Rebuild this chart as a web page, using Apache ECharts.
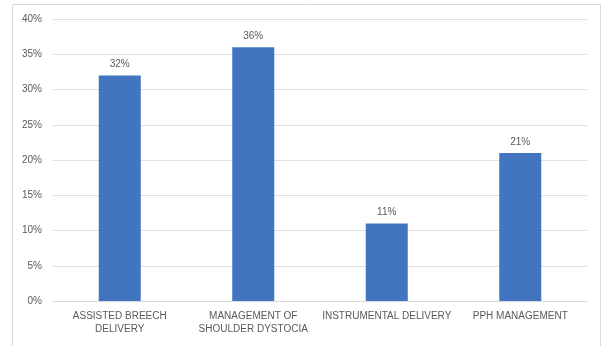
<!DOCTYPE html>
<html>
<head>
<meta charset="utf-8">
<script src="https://cdn.jsdelivr.net/npm/echarts@6/dist/echarts.min.js"></script>
<style>
  html, body { margin: 0; padding: 0; background: #fff; }
  #chart { width: 606px; height: 346px; }
</style>
</head>
<body>
<div id="chart"></div>
<script>
// Skills training categories and share of respondents (%)
const categories = [
  'ASSISTED BREECH\nDELIVERY',
  'MANAGEMENT OF\nSHOULDER DYSTOCIA',
  'INSTRUMENTAL DELIVERY',
  'PPH MANAGEMENT'
];
const values = [32, 36, 11, 21];
const yMin = 0, yMax = 40, yStep = 5;

const textColor = '#595959';
const fontFamily = '"Liberation Sans Narrow", "Liberation Sans", Arial, sans-serif';

const chart = echarts.init(document.getElementById('chart'), null, { renderer: 'canvas' });
chart.setOption({
  animation: false,
  backgroundColor: '#ffffff',
  graphic: [{
    type: 'rect',
    shape: { x: 12.5, y: 4.5, width: 588, height: 360 },
    style: { fill: 'none', stroke: '#d9d9d9', lineWidth: 1 },
    silent: true
  }],
  grid: { left: 53, right: 19, top: 19, bottom: 45 },
  xAxis: {
    type: 'category',
    data: categories,
    axisTick: { show: false },
    axisLine: { lineStyle: { color: '#d9d9d9' } },
    axisLabel: {
      color: textColor, fontFamily: fontFamily, fontSize: 10,
      margin: 9, lineHeight: 13, interval: 0
    }
  },
  yAxis: {
    type: 'value',
    min: yMin, max: yMax, interval: yStep,
    axisLine: { show: false },
    axisTick: { show: false },
    splitLine: { lineStyle: { color: '#e3dfdf', width: 1 } },
    axisLabel: {
      color: textColor, fontFamily: fontFamily, fontSize: 10, margin: 11,
      formatter: v => v + '%'
    }
  },
  series: [{
    type: 'bar',
    data: values,
    barWidth: 42,
    itemStyle: { color: '#4275c0' },
    label: {
      show: true, position: 'top', distance: 6,
      color: textColor, fontFamily: fontFamily, fontSize: 10,
      formatter: p => p.value + '%'
    }
  }]
});
</script>
</body>
</html>
